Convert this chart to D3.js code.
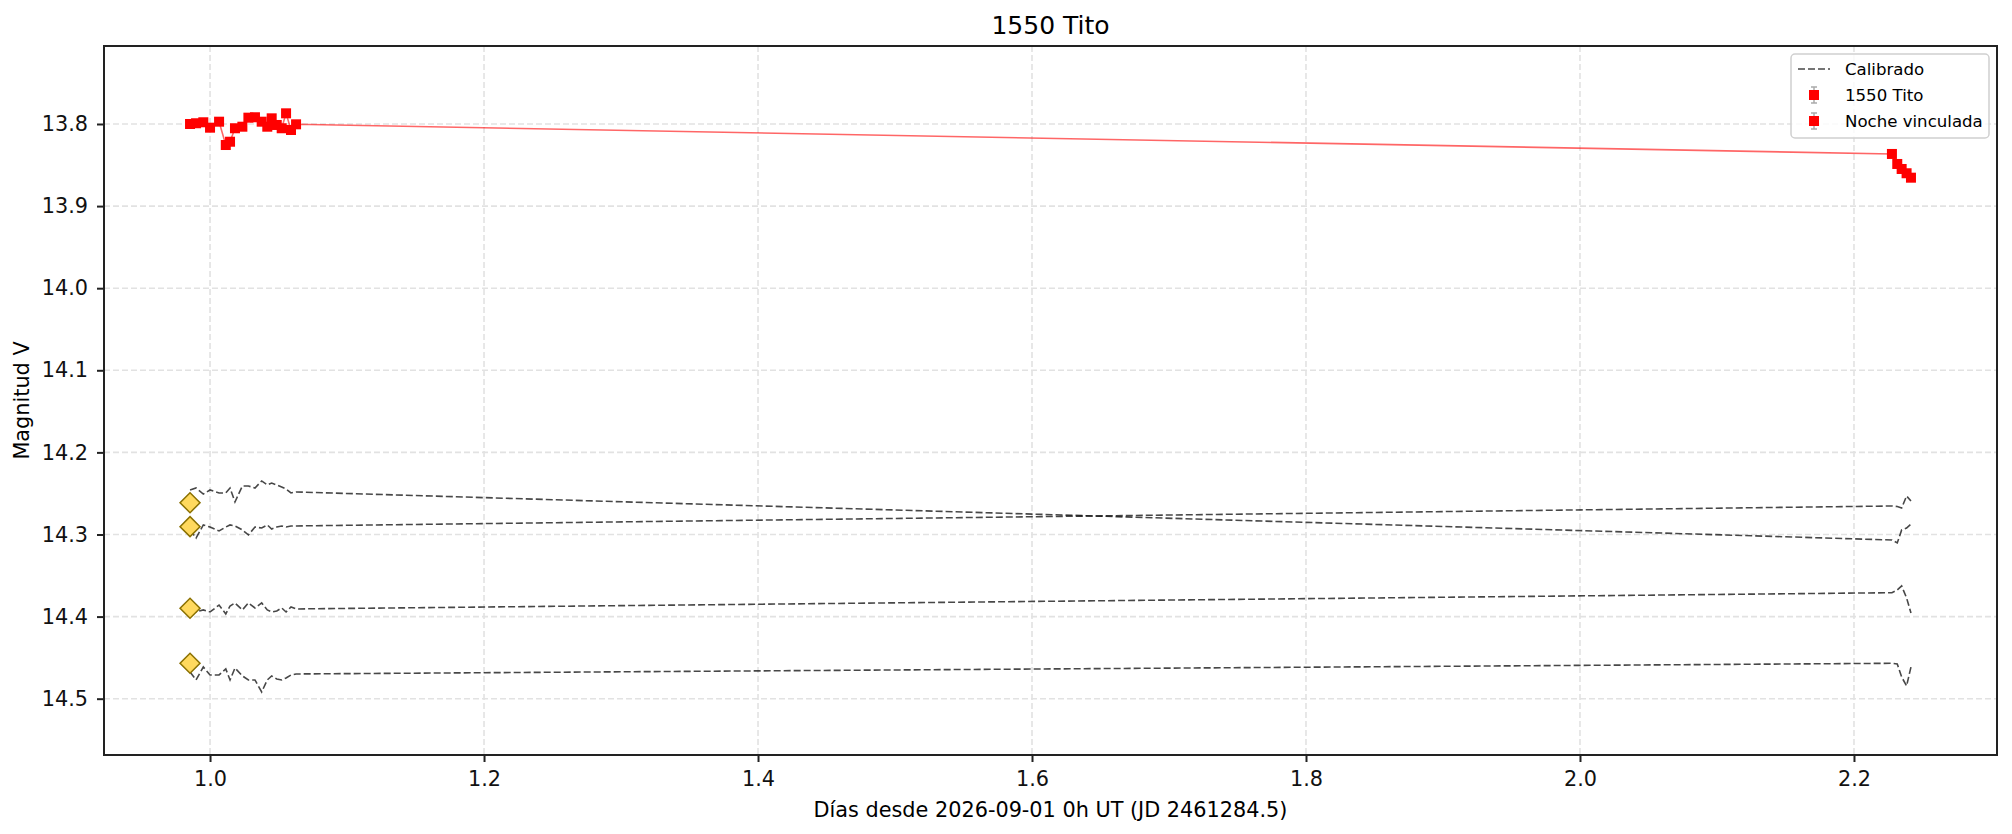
<!DOCTYPE html>
<meta charset="utf-8">
<html>
  <head>
	<script src="https://cdn.jsdelivr.net/npm/d3@7"></script>
	<style>
		body { margin: 0; background: #fff; }
		text { font-family: "DejaVu Sans", sans-serif; }
	</style>
  </head>

<body>
	<div id='lc-container'>
		<div id='lc-chart'></div>
	</div>
</body>
<script>

//first night of 1550 Tito (days since 2026-09-01 0h UT, V mag)
var titoDays = [0.9854, 0.9898, 0.9951, 1.0000, 1.0066, 1.0115, 1.0146, 1.0182, 1.0236, 1.0280,
	1.0328, 1.0377, 1.0418, 1.0450, 1.0487, 1.0523, 1.0555, 1.0591, 1.0628];
var titoMag = [13.8000, 13.7991, 13.7979, 13.8045, 13.7972, 13.8256, 13.8216, 13.8052, 13.8033, 13.7923,
	13.7918, 13.7972, 13.8033, 13.7931, 13.8012, 13.8052, 13.7870, 13.8073, 13.8004];

//linked night
var linkedDays = [2.2277, 2.2316, 2.2348, 2.2384, 2.2416];
var linkedMag = [13.8365, 13.8487, 13.8548, 13.8600, 13.8654];

//calibrated comparison stars, same epochs as both nights
var compDays = titoDays.concat(linkedDays);
var compA = [14.2458, 14.2434, 14.2507, 14.2458, 14.2494, 14.2494, 14.2434, 14.2604, 14.2409, 14.2409,
	14.2434, 14.2348, 14.2397, 14.2373, 14.2397, 14.2421, 14.2446, 14.2494, 14.2482,
	14.3067, 14.3103, 14.2945, 14.2921, 14.2872];
var compB = [14.2945, 14.3043, 14.2884, 14.2909, 14.2957, 14.2909, 14.2884, 14.2896, 14.2945, 14.3006,
	14.2909, 14.2921, 14.2884, 14.2933, 14.2909, 14.2896, 14.2909, 14.2896, 14.2896,
	14.2653, 14.2659, 14.2677, 14.2531, 14.2592];
var compC = [14.3907, 14.3944, 14.3919, 14.3944, 14.3859, 14.3968, 14.3871, 14.3834, 14.3919, 14.3834,
	14.3895, 14.3834, 14.3919, 14.3944, 14.3932, 14.3895, 14.3944, 14.3883, 14.3907,
	14.3709, 14.3676, 14.3627, 14.3773, 14.3956];
var compD = [14.4675, 14.4772, 14.4614, 14.4711, 14.4711, 14.4638, 14.4772, 14.4626, 14.4723, 14.4772,
	14.4772, 14.4918, 14.4772, 14.4723, 14.4760, 14.4772, 14.4748, 14.4711, 14.4699,
	14.4569, 14.4577, 14.4736, 14.4845, 14.4614];

//catalogue magnitudes of the comparison stars (diamonds)
var refDay = 0.9854;
var refMag = [14.2613, 14.2905, 14.3899, 14.4569];

var xTicks = [1.0, 1.2, 1.4, 1.6, 1.8, 2.0, 2.2];
var yTicks = [13.8, 13.9, 14.0, 14.1, 14.2, 14.3, 14.4, 14.5];

var titleText = "1550 Tito";
var xLabel = "Días desde 2026-09-01 0h UT (JD 2461284.5)";
var yLabel = "Magnitud V";
var legendLabels = ["Calibrado", "1550 Tito", "Noche vinculada"];


var drawGraph = function(){

	const width = 2012;
	const height = 834;
	var left = 104, right = 1997, top = 46, bottom = 755;
	var tickFont = "20.8px";

	var svg = d3.select('#lc-chart')
		.append('svg')
		.attr("width", width)
		.attr("height", height)
		.style('background-color', '#fff');

	var x = d3.scaleLinear()
		.domain([0.9226, 2.3044])
		.range([left, right]);

	//magnitudes: brighter is up
	var y = d3.scaleLinear()
		.domain([13.705, 14.5686])
		.range([top, bottom]);

	//grid
	var grid = svg.append("g");
	grid.selectAll(".gx")
		.data(xTicks)
		.enter().append("line")
		.attr("x1", d => x(d)).attr("x2", d => x(d))
		.attr("y1", top).attr("y2", bottom);
	grid.selectAll(".gy")
		.data(yTicks)
		.enter().append("line")
		.attr("x1", left).attr("x2", right)
		.attr("y1", d => y(d)).attr("y2", d => y(d));
	grid.selectAll("line")
		.attr("stroke", "#e2e2e2")
		.attr("stroke-width", 1.6)
		.attr("stroke-dasharray", "6,3");

	//comparison curves
	var curve = d3.line()
		.x(d => x(d[0]))
		.y(d => y(d[1]));

	[compA, compB, compC, compD].forEach(function(series){
		svg.append("path")
			.datum(compDays.map((d, i) => [d, series[i]]))
			.attr("d", curve)
			.attr("fill", "none")
			.attr("stroke", "#000")
			.attr("stroke-opacity", 0.72)
			.attr("stroke-width", 1.6)
			.attr("stroke-dasharray", "7,3");
	});

	//red line joining both nights
	var allRed = titoDays.map((d, i) => [d, titoMag[i]])
		.concat(linkedDays.map((d, i) => [d, linkedMag[i]]));
	svg.append("path")
		.datum(allRed)
		.attr("d", curve)
		.attr("fill", "none")
		.attr("stroke", "red")
		.attr("stroke-opacity", 0.6)
		.attr("stroke-width", 1.6);

	var sq = 10;
	svg.append("g").selectAll("rect")
		.data(allRed)
		.enter().append("rect")
		.attr("x", d => x(d[0]) - sq / 2)
		.attr("y", d => y(d[1]) - sq / 2)
		.attr("width", sq)
		.attr("height", sq)
		.attr("fill", "red");

	//diamonds
	var diamond = d3.symbol().type(d3.symbolSquare).size(200);
	svg.append("g").selectAll("path")
		.data(refMag)
		.enter().append("path")
		.attr("d", diamond)
		.attr("transform", d => "translate(" + x(refDay) + "," + y(d) + ") rotate(45)")
		.attr("fill", "#ffd95e")
		.attr("stroke", "#8a7000")
		.attr("stroke-width", 1.5);

	//axes
	var xAxis = svg.append("g")
		.attr("transform", "translate(0," + bottom + ")")
		.call(d3.axisBottom(x).tickValues(xTicks).tickFormat(d3.format(".1f")).tickSize(7).tickPadding(9));
	var yAxis = svg.append("g")
		.attr("transform", "translate(" + left + ",0)")
		.call(d3.axisLeft(y).tickValues(yTicks).tickFormat(d3.format(".1f")).tickSize(7).tickPadding(9));
	[xAxis, yAxis].forEach(function(a){
		a.select(".domain").remove();
		a.selectAll("line").attr("stroke", "#222").attr("stroke-width", 2);
		a.selectAll("text").style("font-size", tickFont).attr("fill", "#111");
	});

	//frame
	svg.append("rect")
		.attr("x", left).attr("y", top)
		.attr("width", right - left).attr("height", bottom - top)
		.attr("fill", "none")
		.attr("stroke", "#222")
		.attr("stroke-width", 2);

	//labels
	svg.append("text")
		.attr("x", (left + right) / 2).attr("y", 34)
		.attr("text-anchor", "middle")
		.style("font-size", "25px")
		.text(titleText);
	svg.append("text")
		.attr("x", (left + right) / 2).attr("y", 817)
		.attr("text-anchor", "middle")
		.style("font-size", tickFont)
		.text(xLabel);
	svg.append("text")
		.attr("transform", "translate(29," + ((top + bottom) / 2) + ") rotate(-90)")
		.attr("text-anchor", "middle")
		.style("font-size", tickFont)
		.text(yLabel);

	//legend
	var lg = svg.append("g").attr("transform", "translate(1791,54)");
	lg.append("rect")
		.attr("width", 198).attr("height", 84)
		.attr("rx", 4)
		.attr("fill", "#fff").attr("fill-opacity", 0.8)
		.attr("stroke", "#d0d0d0").attr("stroke-width", 1.5);
	lg.append("line")
		.attr("x1", 7).attr("x2", 39).attr("y1", 15).attr("y2", 15)
		.attr("stroke", "#000").attr("stroke-opacity", 0.72)
		.attr("stroke-width", 1.6).attr("stroke-dasharray", "7,3");
	[41, 67].forEach(function(cy){
		var g = lg.append("g").attr("transform", "translate(23," + cy + ")");
		g.append("line").attr("x1", 0).attr("x2", 0).attr("y1", -8).attr("y2", 8)
			.attr("stroke", "#aaa").attr("stroke-width", 1.5);
		g.selectAll(".cap").data([-8, 8]).enter().append("line")
			.attr("x1", -3).attr("x2", 3).attr("y1", d => d).attr("y2", d => d)
			.attr("stroke", "#aaa").attr("stroke-width", 1.5);
		g.append("rect").attr("x", -5).attr("y", -5).attr("width", 10).attr("height", 10)
			.attr("fill", "red");
	});
	lg.selectAll(".lt")
		.data(legendLabels)
		.enter().append("text")
		.attr("x", 54)
		.attr("y", (d, i) => 15 + i * 26 + 6)
		.style("font-size", "16.6px")
		.text(d => d);

}

	drawGraph();

</script>
</html>
